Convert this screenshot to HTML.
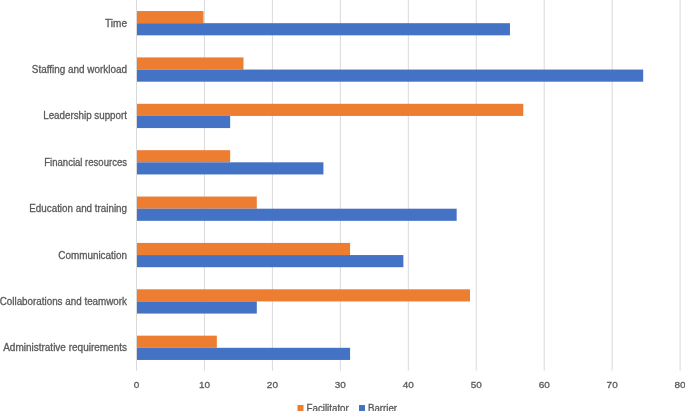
<!DOCTYPE html>
<html><head><meta charset="utf-8"><style>
html,body{margin:0;padding:0;background:#fff;}
body{width:685px;height:411px;overflow:hidden;}
svg{display:block;will-change:transform;}
text{font-family:"Liberation Sans",sans-serif;font-size:10px;fill:#595959;stroke:#595959;stroke-width:0.3px;}
</style></head><body>
<svg width="685" height="411" viewBox="0 0 685 411" xmlns="http://www.w3.org/2000/svg">
<rect width="685" height="411" fill="#fff"/>
<line x1="136.50" y1="0" x2="136.50" y2="370.8" stroke="#d9d9d9" stroke-width="1"/>
<line x1="204.45" y1="0" x2="204.45" y2="370.8" stroke="#d9d9d9" stroke-width="1"/>
<line x1="272.40" y1="0" x2="272.40" y2="370.8" stroke="#d9d9d9" stroke-width="1"/>
<line x1="340.35" y1="0" x2="340.35" y2="370.8" stroke="#d9d9d9" stroke-width="1"/>
<line x1="408.30" y1="0" x2="408.30" y2="370.8" stroke="#d9d9d9" stroke-width="1"/>
<line x1="476.25" y1="0" x2="476.25" y2="370.8" stroke="#d9d9d9" stroke-width="1"/>
<line x1="544.20" y1="0" x2="544.20" y2="370.8" stroke="#d9d9d9" stroke-width="1"/>
<line x1="612.15" y1="0" x2="612.15" y2="370.8" stroke="#d9d9d9" stroke-width="1"/>
<line x1="680.10" y1="0" x2="680.10" y2="370.8" stroke="#d9d9d9" stroke-width="1"/>
<rect x="137.00" y="11.05" width="66.52" height="12.14" fill="#ED7D31"/>
<rect x="137.00" y="23.19" width="372.96" height="12.14" fill="#4472C4"/>
<text x="127" y="26.69" text-anchor="end" textLength="21.9" lengthAdjust="spacingAndGlyphs">Time</text>
<rect x="137.00" y="57.42" width="106.49" height="12.14" fill="#ED7D31"/>
<rect x="137.00" y="69.56" width="506.19" height="12.14" fill="#4472C4"/>
<text x="127" y="73.06" text-anchor="end" textLength="95.2" lengthAdjust="spacingAndGlyphs">Staffing and workload</text>
<rect x="137.00" y="103.80" width="386.28" height="12.14" fill="#ED7D31"/>
<rect x="137.00" y="115.94" width="93.16" height="12.14" fill="#4472C4"/>
<text x="127" y="119.44" text-anchor="end" textLength="83.8" lengthAdjust="spacingAndGlyphs">Leadership support</text>
<rect x="137.00" y="150.17" width="93.16" height="12.14" fill="#ED7D31"/>
<rect x="137.00" y="162.31" width="186.43" height="12.14" fill="#4472C4"/>
<text x="127" y="165.81" text-anchor="end" textLength="82.7" lengthAdjust="spacingAndGlyphs">Financial resources</text>
<rect x="137.00" y="196.55" width="119.81" height="12.14" fill="#ED7D31"/>
<rect x="137.00" y="208.69" width="319.66" height="12.14" fill="#4472C4"/>
<text x="127" y="212.19" text-anchor="end" textLength="97.7" lengthAdjust="spacingAndGlyphs">Education and training</text>
<rect x="137.00" y="242.92" width="213.08" height="12.14" fill="#ED7D31"/>
<rect x="137.00" y="255.06" width="266.37" height="12.14" fill="#4472C4"/>
<text x="127" y="258.56" text-anchor="end" textLength="68.7" lengthAdjust="spacingAndGlyphs">Communication</text>
<rect x="137.00" y="289.30" width="332.99" height="12.14" fill="#ED7D31"/>
<rect x="137.00" y="301.44" width="119.81" height="12.14" fill="#4472C4"/>
<text x="127" y="304.94" text-anchor="end" textLength="127.3" lengthAdjust="spacingAndGlyphs">Collaborations and teamwork</text>
<rect x="137.00" y="335.67" width="79.84" height="12.14" fill="#ED7D31"/>
<rect x="137.00" y="347.81" width="213.08" height="12.14" fill="#4472C4"/>
<text x="127" y="351.31" text-anchor="end" textLength="123.8" lengthAdjust="spacingAndGlyphs">Administrative requirements</text>
<text transform="translate(136.50,388.1) scale(1,0.95)" text-anchor="middle">0</text>
<text transform="translate(204.45,388.1) scale(1,0.95)" text-anchor="middle">10</text>
<text transform="translate(272.40,388.1) scale(1,0.95)" text-anchor="middle">20</text>
<text transform="translate(340.35,388.1) scale(1,0.95)" text-anchor="middle">30</text>
<text transform="translate(408.30,388.1) scale(1,0.95)" text-anchor="middle">40</text>
<text transform="translate(476.25,388.1) scale(1,0.95)" text-anchor="middle">50</text>
<text transform="translate(544.20,388.1) scale(1,0.95)" text-anchor="middle">60</text>
<text transform="translate(612.15,388.1) scale(1,0.95)" text-anchor="middle">70</text>
<text transform="translate(680.10,388.1) scale(1,0.95)" text-anchor="middle">80</text>
<rect x="297.5" y="405" width="6" height="6" fill="#ED7D31"/>
<text x="306.5" y="412.2" textLength="42.3" lengthAdjust="spacingAndGlyphs">Facilitator</text>
<rect x="359" y="405" width="6" height="6" fill="#4472C4"/>
<text x="368" y="412.2" textLength="29" lengthAdjust="spacingAndGlyphs">Barrier</text>
</svg>
</body></html>
